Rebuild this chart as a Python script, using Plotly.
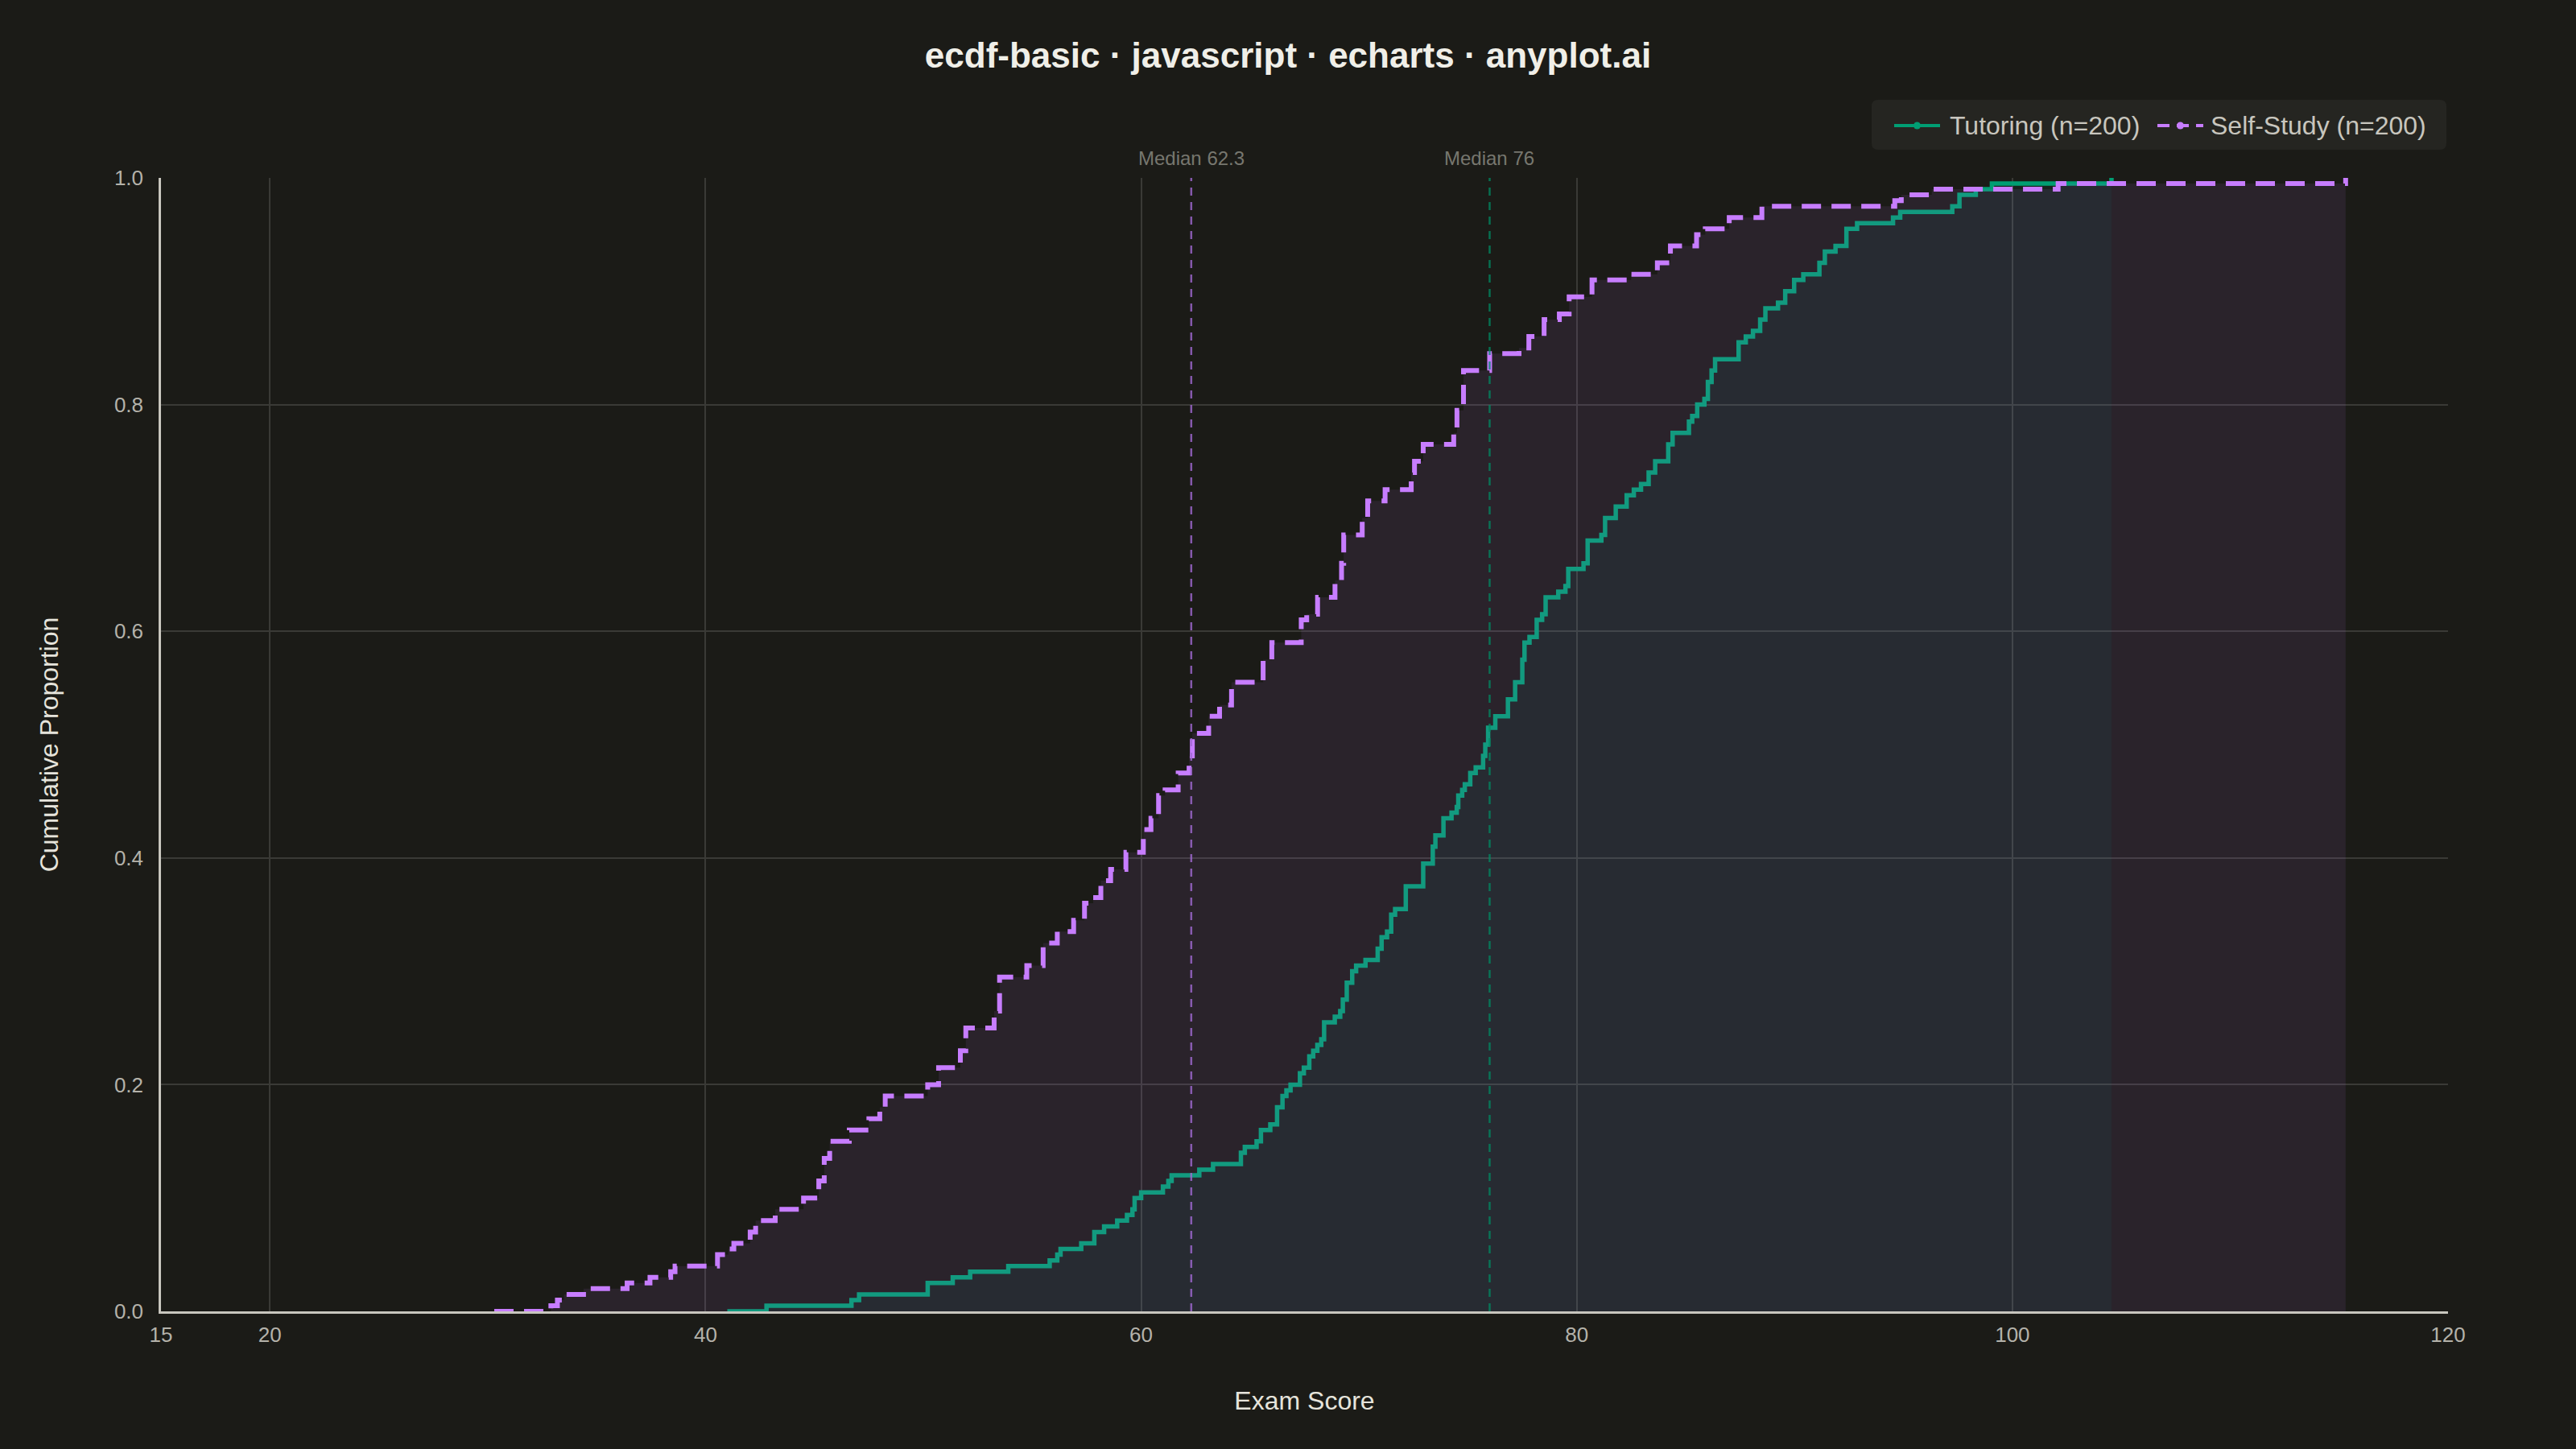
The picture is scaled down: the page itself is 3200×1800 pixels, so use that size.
import plotly.graph_objects as go

# ECDF step points: score where the curve jumps, level after the jump
tutoring_x = [41.0, 42.8, 46.7, 47.05, 50.2, 51.35, 52.15, 53.9, 55.8, 56.15,
              56.3, 57.25, 57.85, 58.3, 58.9, 59.35, 59.6, 59.7, 60.0, 61.0,
              61.25, 61.4, 62.67, 63.3, 64.58, 64.76, 65.3, 65.5, 65.93, 66.24,
              66.49, 66.67, 66.86, 67.29, 67.47, 67.72, 67.9, 68.09, 68.27, 68.4,
              68.89, 69.14, 69.26, 69.44, 69.69, 69.87, 70.3, 70.86, 71.04, 71.29,
              71.48, 71.66, 72.15, 72.95, 73.39, 73.51, 73.88, 74.25, 74.49, 74.56,
              74.74, 74.86, 75.11, 75.36, 75.7, 75.8, 75.93, 76.26, 76.84, 77.17,
              77.5, 77.6, 77.83, 78.16, 78.41, 78.57, 79.15, 79.48, 79.61, 80.31,
              80.5, 81.13, 81.3, 81.79, 82.29, 82.62, 82.95, 83.3, 83.6, 84.2,
              84.4, 85.15, 85.3, 85.53, 85.86, 86.02, 86.19, 86.35, 87.43, 87.76,
              88.09, 88.42, 88.66, 89.24, 89.57, 89.98, 90.4, 91.14, 91.39, 91.88,
              92.38, 92.87, 94.52, 94.85, 97.24, 97.57, 98.32, 99.06, 104.55]
tutoring_p = [0, 0.005, 0.01, 0.015, 0.025, 0.03, 0.035, 0.04, 0.045, 0.05,
              0.055, 0.06, 0.07, 0.075, 0.08, 0.085, 0.09, 0.1, 0.105, 0.11,
              0.115, 0.12, 0.125, 0.13, 0.14, 0.145, 0.15, 0.16, 0.165, 0.18,
              0.19, 0.195, 0.2, 0.21, 0.215, 0.225, 0.23, 0.235, 0.24, 0.255,
              0.26, 0.265, 0.275, 0.29, 0.3, 0.305, 0.31, 0.32, 0.33, 0.335,
              0.35, 0.355, 0.375, 0.395, 0.41, 0.42, 0.435, 0.44, 0.445, 0.455,
              0.46, 0.465, 0.475, 0.48, 0.49, 0.5, 0.515, 0.525, 0.54, 0.555,
              0.575, 0.59, 0.595, 0.61, 0.615, 0.63, 0.635, 0.64, 0.655, 0.66,
              0.68, 0.685, 0.7, 0.71, 0.72, 0.725, 0.73, 0.74, 0.75, 0.765,
              0.775, 0.785, 0.79, 0.8, 0.805, 0.82, 0.83, 0.84, 0.855, 0.86,
              0.865, 0.875, 0.885, 0.89, 0.9, 0.91, 0.915, 0.925, 0.935, 0.94,
              0.955, 0.96, 0.965, 0.97, 0.975, 0.985, 0.99, 0.995, 1.0]

self_x = [30.3, 32.9, 33.2, 33.5, 34.4, 36.4, 37.45, 38.4, 38.6, 40.55,
          41.05, 41.3, 42.05, 42.3, 43.2, 44.5, 45.2, 45.45, 45.7, 46.6,
          47.5, 48.0, 48.25, 50.2, 50.7, 51.7, 51.95, 53.25, 53.5, 54.75,
          55.5, 56.15, 56.9, 57.4, 57.8, 58.15, 58.6, 59.3, 60.1, 60.45,
          60.8, 61.1, 61.7, 62.2, 62.35, 63.1, 63.6, 64.15, 65.6, 66.0,
          67.35, 67.6, 68.1, 68.9, 69.2, 69.3, 70.15, 70.4, 71.2, 72.4,
          72.55, 72.95, 74.35, 74.5, 74.8, 76.0, 77.35, 77.8, 78.5, 79.2,
          79.65, 80.7, 82.5, 83.7, 84.3, 85.5, 85.9, 87.0, 88.5, 94.6,
          94.9, 96.3, 102.1, 115.3]
self_p = [0, 0.005, 0.01, 0.015, 0.02, 0.025, 0.03, 0.035, 0.04, 0.05,
          0.055, 0.06, 0.07, 0.08, 0.09, 0.1, 0.115, 0.135, 0.15, 0.16,
          0.17, 0.18, 0.19, 0.2, 0.215, 0.23, 0.25, 0.265, 0.295, 0.305,
          0.325, 0.335, 0.345, 0.36, 0.365, 0.38, 0.39, 0.405, 0.425, 0.435,
          0.455, 0.46, 0.475, 0.49, 0.51, 0.525, 0.535, 0.555, 0.575, 0.59,
          0.61, 0.615, 0.63, 0.645, 0.66, 0.685, 0.70, 0.715, 0.725, 0.74,
          0.75, 0.765, 0.775, 0.795, 0.83, 0.845, 0.85, 0.86, 0.875, 0.88,
          0.895, 0.91, 0.915, 0.925, 0.94, 0.95, 0.955, 0.965, 0.975, 0.98,
          0.985, 0.99, 0.995, 1.0]

medians = {"Self-Study": 62.3, "Tutoring": 76}
legend_names = ["Tutoring (n=200)", "Self-Study (n=200)"]
x_ticks = [15, 20, 40, 60, 80, 100, 120]
y_ticks = [0, 0.2, 0.4, 0.6, 0.8, 1.0]

GREEN = "#009E73"
PURPLE = "#C77DFF"
BG = "#1b1b17"
FONT = "Liberation Sans, Arial, sans-serif"

W, H = 3200, 1800
L, R, T, B = 200, 159, 221, 171


def px(xp, yp):
    # page pixel -> paper coords (used for the hand-made legend box)
    return (xp - L) / (W - L - R), (H - B - yp) / (H - T - B)


fig = go.Figure()

# tutoring below, self-study drawn on top
fig.add_trace(go.Scatter(x=tutoring_x, y=tutoring_p, mode="lines", line_shape="hv",
                         line=dict(color=GREEN, width=5.5), fill="tozeroy",
                         fillcolor="rgba(0,158,115,0.08)", showlegend=False, hoverinfo="skip"))
fig.add_trace(go.Scatter(x=self_x, y=self_p, mode="lines", line_shape="hv",
                         line=dict(color=PURPLE, width=6, dash="24px,13px"), fill="tozeroy",
                         fillcolor="rgba(199,125,255,0.09)", showlegend=False, hoverinfo="skip"))

med_colors = {"Self-Study": "rgba(160,105,210,0.8)", "Tutoring": "rgba(0,140,100,0.75)"}
for name, m in medians.items():
    fig.add_shape(type="line", x0=m, x1=m, y0=0, y1=1, xref="x", yref="y",
                  line=dict(color=med_colors[name], width=2.5, dash="10px,8px"))
    fig.add_annotation(x=m, y=1, xref="x", yref="paper", yanchor="middle", yshift=25,
                       text="Median %g" % m, showarrow=False,
                       font=dict(family=FONT, size=24, color="#77776f"))

# legend box (rounded) drawn by hand, like the echarts legend
bx0, by0 = px(2325, 186)
bx1, by1 = px(3039, 124)
rx, ry = 8 / (W - L - R), 8 / (H - T - B)
box_path = ("M %f,%f L %f,%f Q %f,%f %f,%f L %f,%f Q %f,%f %f,%f L %f,%f Q %f,%f %f,%f "
            "L %f,%f Q %f,%f %f,%f Z") % (
    bx0 + rx, by0, bx1 - rx, by0, bx1, by0, bx1, by0 + ry,
    bx1, by1 - ry, bx1, by1, bx1 - rx, by1,
    bx0 + rx, by1, bx0, by1, bx0, by1 - ry,
    bx0, by0 + ry, bx0, by0, bx0 + rx, by0)
fig.add_shape(type="path", path=box_path, xref="paper", yref="paper",
              fillcolor="#252521", line=dict(width=0), layer="below")

leg_items = [(2353, GREEN, "solid", legend_names[0], 2421),
             (2680, PURPLE, "15px,9px", legend_names[1], 2745)]
for x_start, col, dash, label, x_text in leg_items:
    lx0, ly = px(x_start, 156)
    lx1, _ = px(x_start + 57, 156)
    fig.add_shape(type="line", x0=lx0, x1=lx1, y0=ly, y1=ly, xref="paper", yref="paper",
                  line=dict(color=col, width=4, dash=dash))
    cx0, cy0 = px(x_start + 28.5 - 4.5, 156 + 4.5)
    cx1, cy1 = px(x_start + 28.5 + 4.5, 156 - 4.5)
    fig.add_shape(type="circle", x0=cx0, x1=cx1, y0=cy0, y1=cy1, xref="paper", yref="paper",
                  fillcolor=col, line=dict(width=0))
    tx, ty = px(x_text, 156)
    fig.add_annotation(x=tx, y=ty, xref="paper", yref="paper", xanchor="left", yanchor="middle",
                       text=label, showarrow=False, borderpad=0,
                       font=dict(family=FONT, size=32, color="#c8c6be"))

fig.update_layout(
    width=W, height=H,
    paper_bgcolor=BG, plot_bgcolor=BG,
    margin=dict(l=L, r=R, t=T, b=B),
    showlegend=False,
    title=dict(text="ecdf-basic · javascript · echarts · anyplot.ai", x=0.5, xanchor="center",
               y=1 - 69 / H, yanchor="middle", yref="container",
               font=dict(family=FONT, size=44, color="#f0efe8", weight="bold")),
    font=dict(family=FONT),
)

fig.update_xaxes(range=[15, 120], tickvals=x_ticks, showgrid=True, gridcolor="#3a3a36", gridwidth=2,
                 showline=True, linecolor="#c8c6be", linewidth=2.5, zeroline=False, ticks="",
                 ticklabelstandoff=4, tickfont=dict(size=26, color="#b4b2aa"),
                 title=dict(text="Exam Score", standoff=57, font=dict(size=32, color="#e6e4dc")))
fig.update_yaxes(range=[0, 1], tickvals=y_ticks, tickformat=".1f", showgrid=True, gridcolor="#3a3a36",
                 gridwidth=2, showline=True, linecolor="#c8c6be", linewidth=2.5, zeroline=False, ticks="",
                 ticklabelstandoff=14, tickfont=dict(size=26, color="#b4b2aa"),
                 title=dict(text="Cumulative Proportion", standoff=60, font=dict(size=32, color="#e6e4dc")))

fig.write_html("out.html", config={"displayModeBar": False},
               post_script="document.body.style.margin='0';document.body.style.overflow='hidden';")
